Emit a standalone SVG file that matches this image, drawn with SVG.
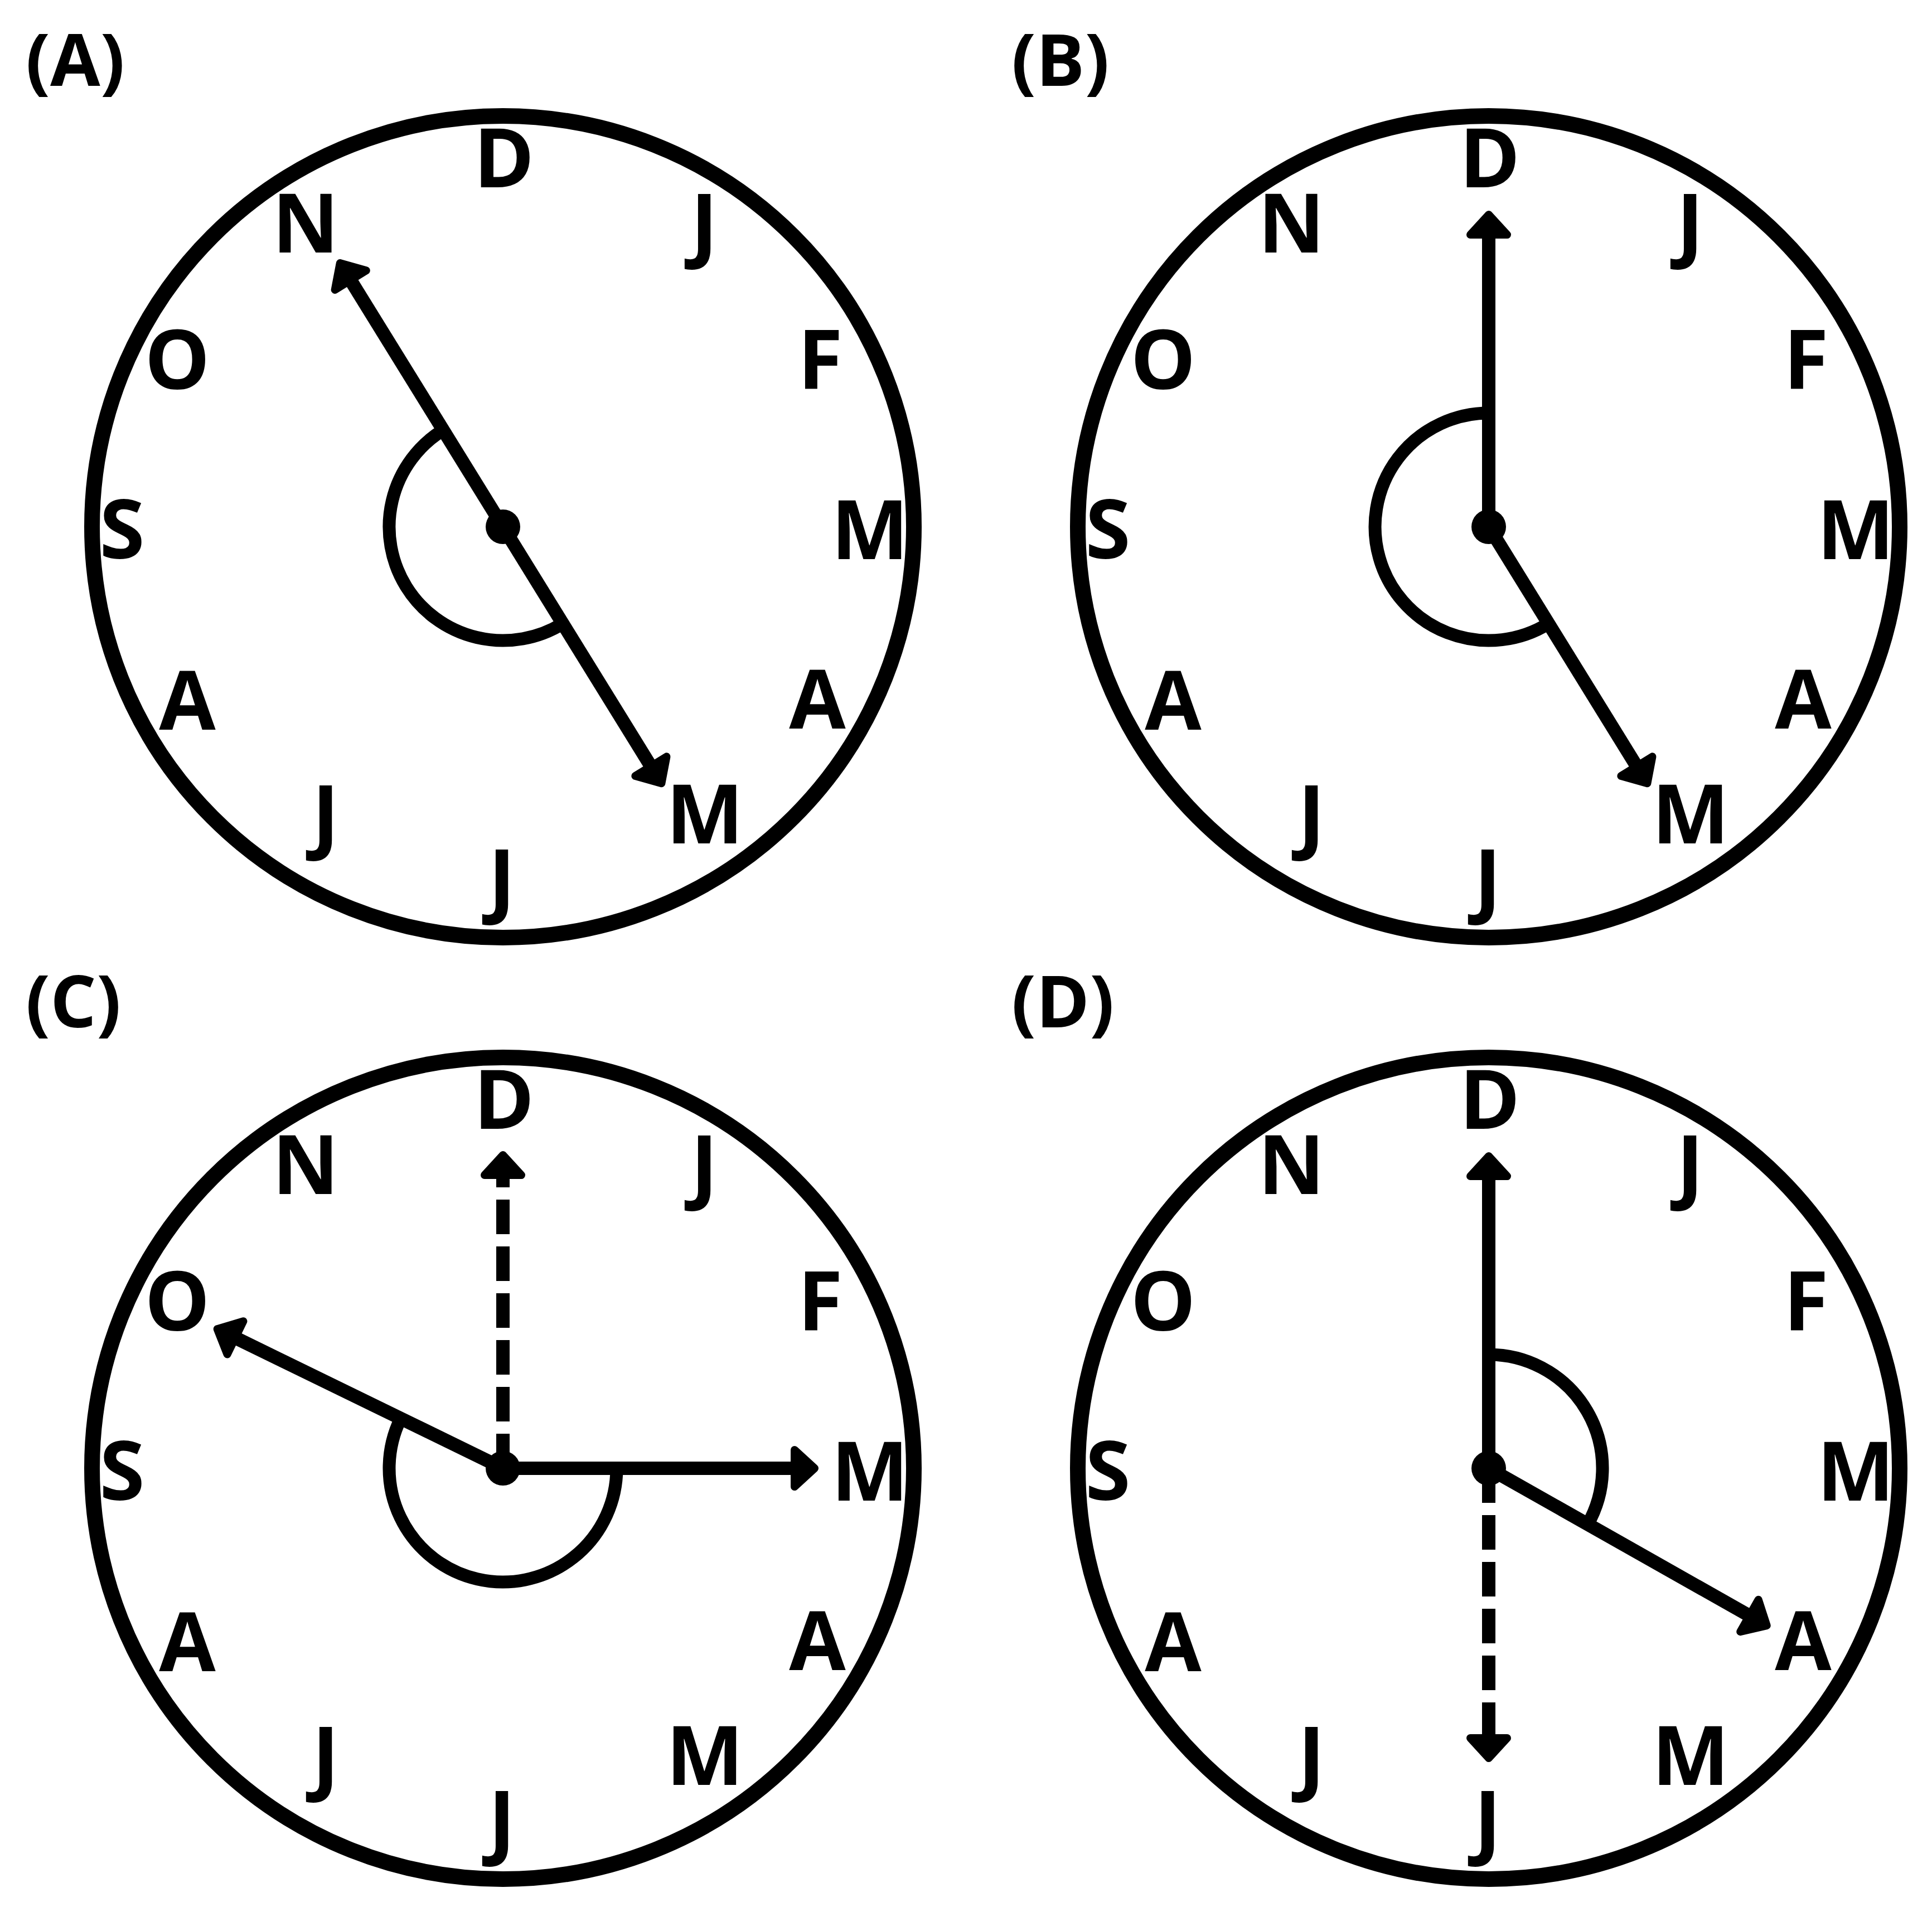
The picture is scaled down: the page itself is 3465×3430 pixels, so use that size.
<svg xmlns="http://www.w3.org/2000/svg" width="3465" height="3430" viewBox="0 0 3465 3430">
<style>
.bg{fill:#fff}
.rim{fill:none;stroke:#000;stroke-width:28}
.hand{fill:none;stroke:#000;stroke-width:24}
.dash{stroke-dasharray:62 22}
.arc{fill:none;stroke:#000;stroke-width:23}
.dot{fill:#000}
.lbl{font-family:"Open Sans","DejaVu Sans",sans-serif;font-weight:700;font-size:147px;text-anchor:middle;fill:#000}
.tag{font-family:"Open Sans","DejaVu Sans",sans-serif;font-weight:700;font-size:130px;fill:#000}
</style>
<defs>
<marker id="ah" markerUnits="userSpaceOnUse" orient="auto" refX="0" refY="0" markerWidth="90" markerHeight="100" viewBox="-10 -50 90 100" overflow="visible">
<path d="M0,-33 L36,0 L0,33 Z" fill="#000" stroke="#000" stroke-width="14" stroke-linejoin="round"/>
</marker>
</defs>
<rect class="bg" x="0" y="0" width="3465" height="3430"/>

<g id="tags">
<text class="tag" x="46" y="154">(A)</text>
<text class="tag" x="1814" y="154">(B)</text>
<text class="tag" x="46" y="1843">(C)</text>
<text class="tag" x="1814" y="1843">(D)</text>
</g>

<g id="clock-a" transform="translate(902,945)">
<circle class="rim" cx="0" cy="0" r="737"/>
<g class="lbl">
<text x="2" y="-609">D</text>
<text x="-354" y="-492">N</text>
<text x="361" y="-492">J</text>
<text x="-584" y="-247">O</text>
<text x="569" y="-247">F</text>
<text x="-683" y="57">S</text>
<text x="658" y="58">M</text>
<text x="-566" y="364">A</text>
<text x="564" y="362">A</text>
<text x="-318" y="569">J</text>
<text x="362" y="568">M</text>
<text x="-2" y="684">J</text>
</g>
<g id="hands-a">
<path class="arc" d="M-107.2,-173.6 A204,204 0 0 0 107.2,173.6"/>
<line class="hand" x1="0" y1="0" x2="-273.3" y2="-442.4" marker-end="url(#ah)"/>
<line class="hand" x1="0" y1="0" x2="265.4" y2="429.7" marker-end="url(#ah)"/>
<circle class="dot" cx="0" cy="0" r="31"/>
</g>
</g>

<g id="clock-b" transform="translate(2670,945)">
<circle class="rim" cx="0" cy="0" r="737"/>
<g class="lbl">
<text x="2" y="-609">D</text>
<text x="-354" y="-492">N</text>
<text x="361" y="-492">J</text>
<text x="-584" y="-247">O</text>
<text x="569" y="-247">F</text>
<text x="-683" y="57">S</text>
<text x="658" y="58">M</text>
<text x="-566" y="364">A</text>
<text x="564" y="362">A</text>
<text x="-318" y="569">J</text>
<text x="362" y="568">M</text>
<text x="-2" y="684">J</text>
</g>
<g id="hands-b">
<path class="arc" d="M0,-204 A204,204 0 1 0 107.2,173.6"/>
<line class="hand" x1="0" y1="0" x2="0" y2="-524" marker-end="url(#ah)"/>
<line class="hand" x1="0" y1="0" x2="265.4" y2="429.7" marker-end="url(#ah)"/>
<circle class="dot" cx="0" cy="0" r="31"/>
</g>
</g>

<g id="clock-c" transform="translate(902,2634)">
<circle class="rim" cx="0" cy="0" r="737"/>
<g class="lbl">
<text x="2" y="-609">D</text>
<text x="-354" y="-492">N</text>
<text x="361" y="-492">J</text>
<text x="-584" y="-247">O</text>
<text x="569" y="-247">F</text>
<text x="-683" y="57">S</text>
<text x="658" y="58">M</text>
<text x="-566" y="364">A</text>
<text x="564" y="362">A</text>
<text x="-318" y="569">J</text>
<text x="362" y="568">M</text>
<text x="-2" y="684">J</text>
</g>
<g id="hands-c">
<path class="arc" d="M-183.4,-89.4 A204,204 0 1 0 204,0"/>
<line class="hand dash" x1="0" y1="0" x2="0" y2="-526" marker-end="url(#ah)"/>
<line class="hand" x1="0" y1="0" x2="-480" y2="-234.1" marker-end="url(#ah)"/>
<line class="hand" x1="0" y1="0" x2="523" y2="0" marker-end="url(#ah)"/>
<circle class="dot" cx="0" cy="0" r="31"/>
</g>
</g>

<g id="clock-d" transform="translate(2670,2634)">
<circle class="rim" cx="0" cy="0" r="737"/>
<g class="lbl">
<text x="2" y="-609">D</text>
<text x="-354" y="-492">N</text>
<text x="361" y="-492">J</text>
<text x="-584" y="-247">O</text>
<text x="569" y="-247">F</text>
<text x="-683" y="57">S</text>
<text x="658" y="58">M</text>
<text x="-566" y="364">A</text>
<text x="564" y="362">A</text>
<text x="-318" y="569">J</text>
<text x="362" y="568">M</text>
<text x="-2" y="684">J</text>
</g>
<g id="hands-d">
<path class="arc" d="M0,-204 A204,204 0 0 1 177.6,100.4"/>
<line class="hand" x1="0" y1="0" x2="0" y2="-524" marker-end="url(#ah)"/>
<line class="hand dash" x1="0" y1="0" x2="0" y2="484" marker-end="url(#ah)"/>
<line class="hand" x1="0" y1="0" x2="467.4" y2="264.4" marker-end="url(#ah)"/>
<circle class="dot" cx="0" cy="0" r="31"/>
</g>
</g>
</svg>
